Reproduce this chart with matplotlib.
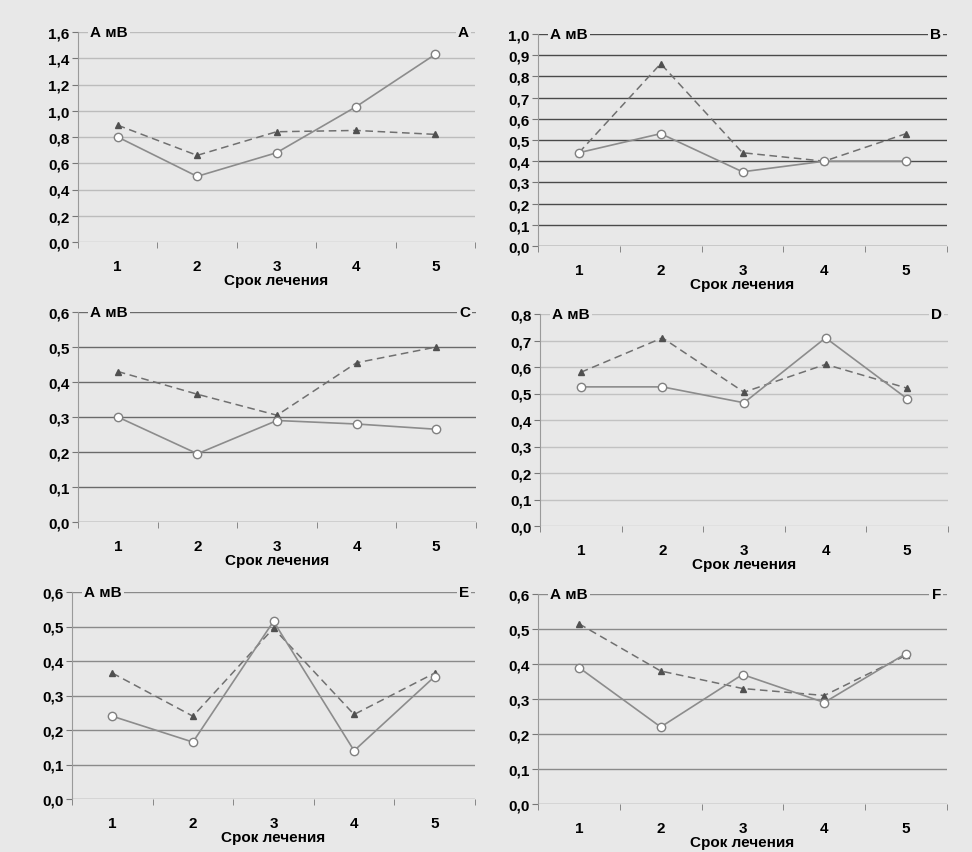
import matplotlib
matplotlib.use("Agg")
import matplotlib.pyplot as plt
from matplotlib.ticker import FixedLocator, FuncFormatter

plt.rcParams['font.family'] = ['Liberation Sans', 'DejaVu Sans']

days = [1, 2, 3, 4, 5]
panel_names = ['A', 'B', 'C', 'D', 'E', 'F']

# solid line, open circles
circ_A = [0.80, 0.50, 0.68, 1.03, 1.43]
circ_B = [0.44, 0.53, 0.35, 0.40, 0.40]
circ_C = [0.30, 0.195, 0.29, 0.28, 0.265]
circ_D = [0.525, 0.525, 0.465, 0.71, 0.48]
circ_E = [0.24, 0.165, 0.515, 0.14, 0.355]
circ_F = [0.39, 0.22, 0.37, 0.29, 0.43]

# dashed line, triangles
tri_A = [0.89, 0.66, 0.84, 0.85, 0.82]
tri_B = [0.44, 0.86, 0.44, 0.40, 0.53]
tri_C = [0.43, 0.365, 0.305, 0.455, 0.50]
tri_D = [0.58, 0.71, 0.505, 0.61, 0.52]
tri_E = [0.365, 0.24, 0.495, 0.245, 0.365]
tri_F = [0.515, 0.38, 0.33, 0.31, 0.425]

y_max = [1.6, 1.0, 0.6, 0.8, 0.6, 0.6]
y_step = [0.2, 0.1, 0.1, 0.1, 0.1, 0.1]

circ = [circ_A, circ_B, circ_C, circ_D, circ_E, circ_F]
tri = [tri_A, tri_B, tri_C, tri_D, tri_E, tri_F]

W, H = 972, 853
bg = '#e8e8e8'
# pixel boxes: left, right, top, bottom
boxes = [(78, 475, 33, 243), (538, 947, 35, 247),
         (78, 476, 313, 523), (540, 948, 315, 527),
         (72, 475, 593, 800), (538, 947, 595, 805)]
grid_cols = ['#bcbcbc', '#4a4a4a', '#6a6a6a', '#c2c2c2', '#8a8a8a', '#8a8a8a']

fig = plt.figure(figsize=(W / 100, H / 100), dpi=100, facecolor=bg)

for i in range(6):
    l, r, t, b = boxes[i]
    ax = fig.add_axes([l / W, 1 - b / H, (r - l) / W, (b - t) / H])
    ax.set_facecolor(bg)
    ax.plot(days, tri[i], color='#707070', lw=1.1, ls=(0, (5, 3)),
            marker='^', ms=4, mfc='#505050', mec='#505050', zorder=3)
    ax.plot(days, circ[i], color='#8c8c8c', lw=1.2, marker='o', ms=6,
            mfc='white', mec='#808080', mew=1.0, zorder=4)
    ax.set_xlim(0.5, 5.5)
    ax.set_ylim(0, y_max[i])
    n = int(round(y_max[i] / y_step[i]))
    yt = [k * y_step[i] for k in range(n + 1)]
    ax.set_yticks(yt)
    ax.yaxis.set_major_formatter(FuncFormatter(lambda v, p: f'{v:.1f}'.replace('.', ',')))
    for v in yt:
        ax.axhline(v, color=grid_cols[i], lw=1.0, zorder=1)
    ax.set_xticks(days)
    ax.xaxis.set_minor_locator(FixedLocator([0.5, 1.5, 2.5, 3.5, 4.5, 5.5]))
    ax.tick_params(axis='x', which='major', length=0, pad=12,
                   labelsize=11)
    ax.tick_params(axis='x', which='minor', length=4, color='#777777', direction='out')
    ax.tick_params(axis='y', length=4, color='#777777', pad=2, labelsize=11)
    for lab in ax.get_xticklabels() + ax.get_yticklabels():
        lab.set_fontweight('bold')
    ax.set_xlabel('Срок лечения', fontsize=11, fontweight='bold', labelpad=0)
    for s in ['top', 'right', 'bottom']:
        ax.spines[s].set_visible(False)
    ax.spines['left'].set_color('#9a9a9a')
    ax.text(0.03, 1.0, 'А мВ', transform=ax.transAxes, ha='left', va='center',
            fontsize=11, fontweight='bold', zorder=5,
            bbox=dict(facecolor=bg, edgecolor='none', pad=1.5))
    ax.text(0.985, 1.0, panel_names[i], transform=ax.transAxes, ha='right',
            va='center', fontsize=11, fontweight='bold', zorder=5,
            bbox=dict(facecolor=bg, edgecolor='none', pad=1.5))

fig.savefig('out.png', dpi=100, facecolor=bg)
